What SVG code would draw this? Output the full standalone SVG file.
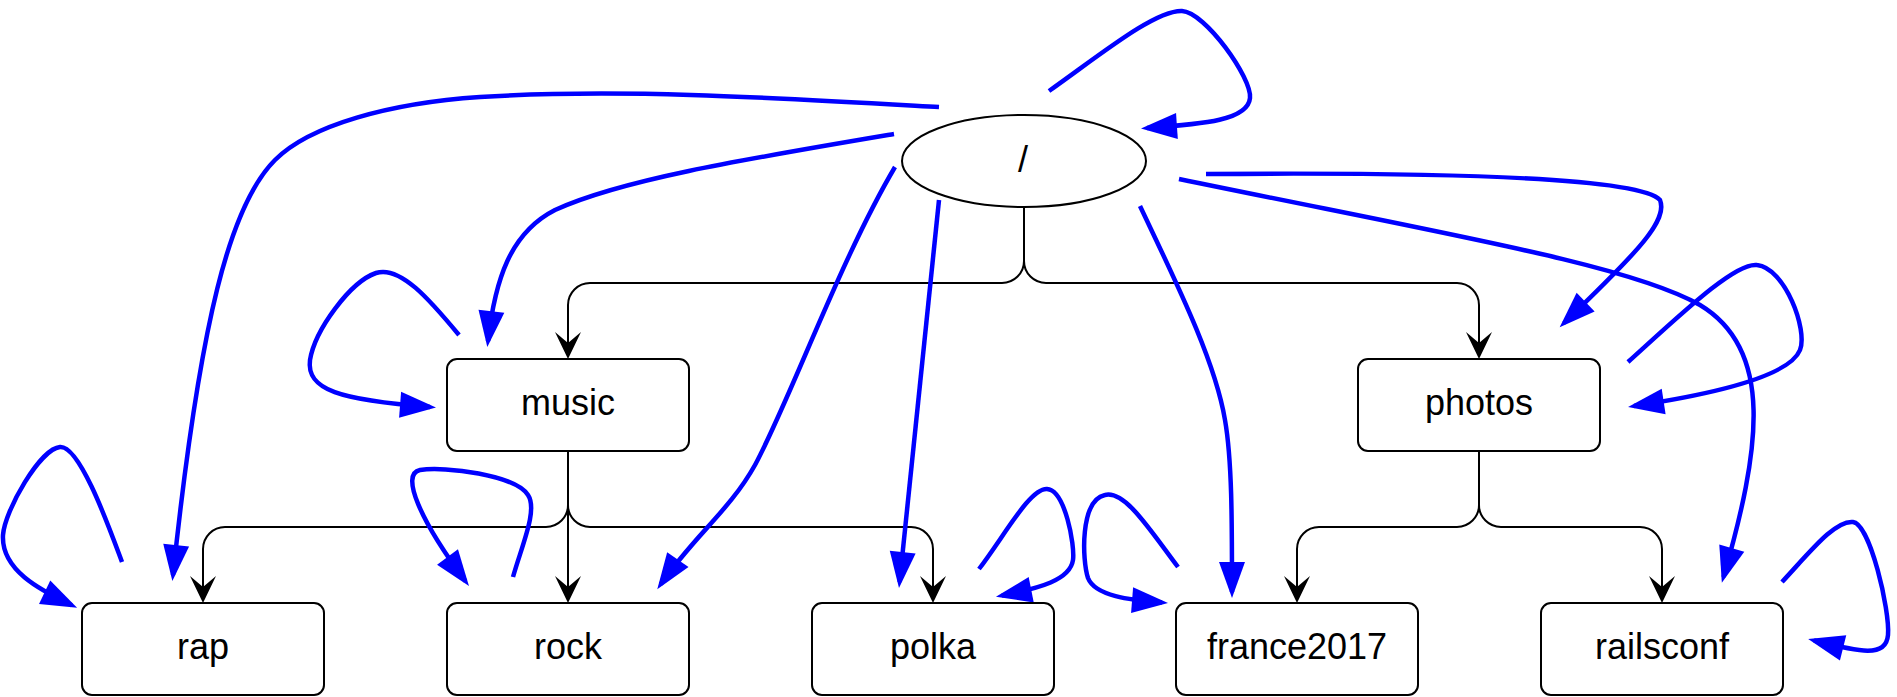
<svg xmlns="http://www.w3.org/2000/svg" width="1897" height="697" viewBox="0 0 1897 697">
<defs>
<style>
.box{fill:#fff;stroke:#000;stroke-width:2}
.lbl{font-family:"Liberation Sans",Arial,Helvetica,sans-serif;font-size:36px;fill:#000;text-anchor:middle}
.tree{fill:none;stroke:#000;stroke-width:2;marker-end:url(#blk)}
.tree2{fill:none;stroke:#000;stroke-width:2}
.ref{fill:none;stroke:#0000ff;stroke-width:4.5;marker-end:url(#blu)}
</style>
<marker id="blk" markerUnits="userSpaceOnUse" markerWidth="27" markerHeight="26" refX="24" refY="13" orient="auto" overflow="visible">
<path d="M0,0 L27,13 L0,26 L11,13 z" fill="#000"/>
</marker>
<marker id="blu" markerUnits="userSpaceOnUse" markerWidth="36" markerHeight="26" refX="30" refY="13" orient="auto" overflow="visible">
<path d="M0,0 L36,13 L0,26 z" fill="#0000ff"/>
</marker>
</defs>
<rect width="1897" height="697" fill="#fff"/>
<g id="connectors">
<path class="tree" d="M1024 207 V261 A22 22 0 0 1 1002 283 H590 A22 22 0 0 0 568 305 V356"/>
<path class="tree" d="M1024 261 A22 22 0 0 0 1046 283 H1457 A22 22 0 0 1 1479 305 V356"/>
<path class="tree" d="M568 451 V505 A22 22 0 0 1 546 527 H225 A22 22 0 0 0 203 549 V600"/>
<path class="tree" d="M568 451 V600"/>
<path class="tree" d="M568 505 A22 22 0 0 0 590 527 H911 A22 22 0 0 1 933 549 V600"/>
<path class="tree" d="M1479 451 V505 A22 22 0 0 1 1457 527 H1319 A22 22 0 0 0 1297 549 V600"/>
<path class="tree" d="M1479 505 A22 22 0 0 0 1501 527 H1640 A22 22 0 0 1 1662 549 V600"/>
<path class="ref" d="M1049 91 C1100 55 1155 10 1182 11 C1205 12 1252 78 1250 98 C1248 120 1205 124 1147 128"/>
<path class="ref" d="M939 107 C780 98 620 88 480 97 C390 103 310 125 275 160 C230 205 200 320 173 575"/>
<path class="ref" d="M894 134 C740 160 620 180 555 210 C510 233 495 280 488 341"/>
<path class="ref" d="M895 167 C840 260 790 400 755 465 C730 510 695 535 660.7 584.3"/>
<path class="ref" d="M939 200 L899.6 582"/>
<path class="ref" d="M1140 206 C1175 280 1215 360 1225 420 C1232 460 1232 520 1232 592"/>
<path class="ref" d="M1206 174 C1450 172 1640 178 1660 200 C1668 220 1640 250 1564 323"/>
<path class="ref" d="M1179 179 C1450 235 1630 265 1700 305 C1775 350 1760 450 1723.5 577"/>
<path class="ref" d="M459 335 C430 300 400 265 376 273 C350 282 315 330 310 360 C306 390 340 400 430 407"/>
<path class="ref" d="M122 562 C110 530 80 445 60 447 C40 449 5 510 3 535 C1 570 40 590 71.7 605.2"/>
<path class="ref" d="M513 577 C522 545 538 510 528 495 C515 475 445 466 420 470 C400 474 420 520 465.4 581.2"/>
<path class="ref" d="M979 569 C1005 535 1030 488 1047 489 C1065 490 1075 545 1073 560 C1070 580 1040 588 1001.8 595.6"/>
<path class="ref" d="M1178 567 C1150 530 1125 490 1105 495 C1080 500 1082 560 1088 578 C1095 596 1130 600 1162 602.5"/>
<path class="ref" d="M1628 362 C1680 315 1735 262 1757 265 C1785 268 1808 330 1800 350 C1790 375 1720 393 1634 406"/>
<path class="ref" d="M1782 582 C1810 552 1835 520 1853 522 C1870 524 1890 610 1888 635 C1886 658 1860 652 1814 640.5"/>
</g>
<g id="root">
<ellipse class="box" cx="1024" cy="161" rx="122" ry="46"/>
<text class="lbl" x="1023" y="172">/</text>
</g>
<g id="music">
<rect class="box" x="447" y="359" width="242" height="92" rx="10"/>
<text class="lbl" x="568" y="415">music</text>
</g>
<g id="photos">
<rect class="box" x="1358" y="359" width="242" height="92" rx="10"/>
<text class="lbl" x="1479" y="415">photos</text>
</g>
<g id="rap">
<rect class="box" x="82" y="603" width="242" height="92" rx="10"/>
<text class="lbl" x="203" y="659">rap</text>
</g>
<g id="rock">
<rect class="box" x="447" y="603" width="242" height="92" rx="10"/>
<text class="lbl" x="568" y="659">rock</text>
</g>
<g id="polka">
<rect class="box" x="812" y="603" width="242" height="92" rx="10"/>
<text class="lbl" x="933" y="659">polka</text>
</g>
<g id="france2017">
<rect class="box" x="1176" y="603" width="242" height="92" rx="10"/>
<text class="lbl" x="1297" y="659">france2017</text>
</g>
<g id="railsconf">
<rect class="box" x="1541" y="603" width="242" height="92" rx="10"/>
<text class="lbl" x="1662" y="659">railsconf</text>
</g>
</svg>
